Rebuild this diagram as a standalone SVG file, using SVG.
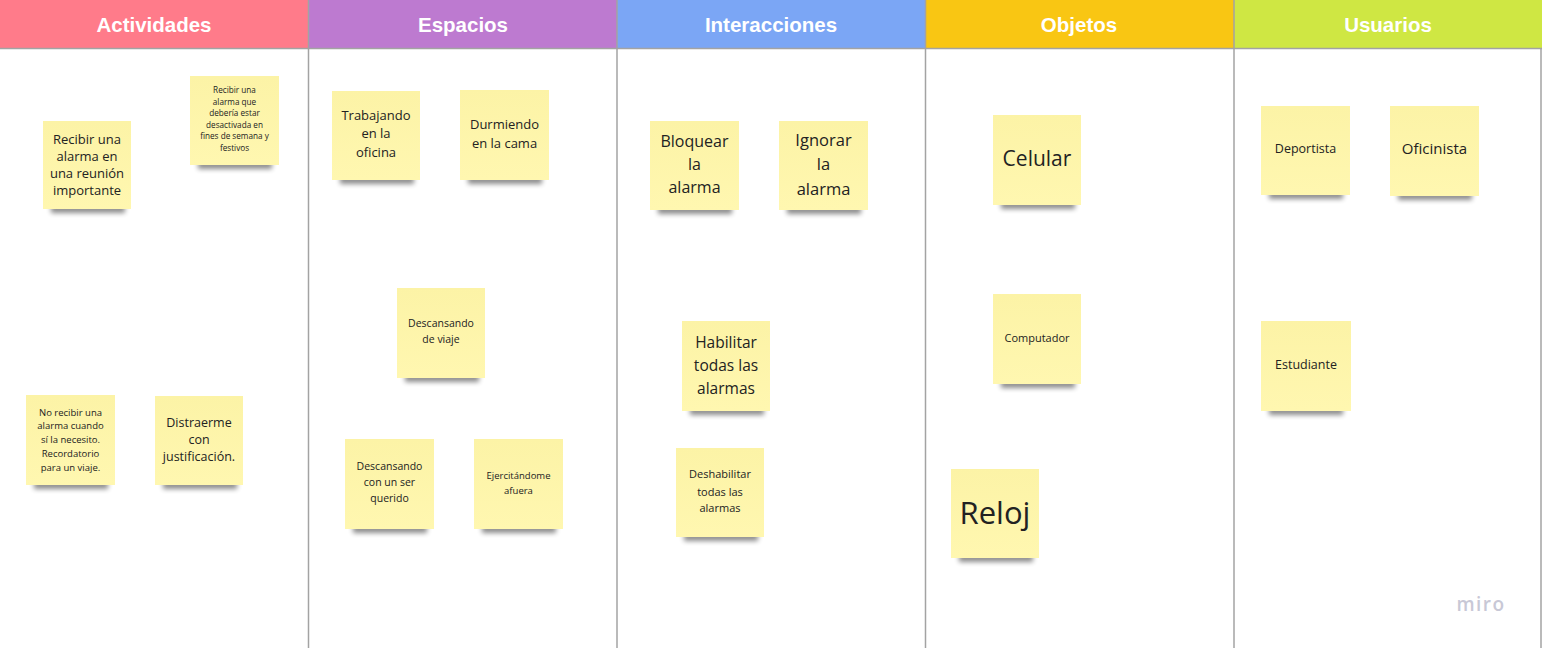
<svg xmlns="http://www.w3.org/2000/svg" width="1542" height="648" viewBox="0 0 1542 648">
<defs>
<filter id="blur" x="-20%" y="-100%" width="140%" height="300%"><feGaussianBlur stdDeviation="2.5"/></filter>
<linearGradient id="paper" x1="0" y1="0" x2="0" y2="1">
<stop offset="0" stop-color="#fcf3a6"/><stop offset="1" stop-color="#fff7b0"/>
</linearGradient>
</defs>
<style>
.hd{font-family:"Liberation Sans",Arial,sans-serif;font-weight:bold;font-size:20.5px;fill:#fff;text-anchor:middle}
.col{stroke:#a3a3a3;stroke-width:1.5}
.note{fill:url(#paper)}
.sh{fill:#000;opacity:.45;filter:url(#blur)}
.t{font-family:"Open Sans","Noto Sans",sans-serif;fill:#222;text-anchor:middle}
</style>
<rect width="1542" height="648" fill="#fff"/>
<g id="headers">
<rect x="0" y="0" width="308.5" height="48" fill="#ff7b8a"/>
<rect x="308.5" y="0" width="308.5" height="48" fill="#bd7ad0"/>
<rect x="617" y="0" width="308.5" height="48" fill="#7ba6f5"/>
<rect x="925.5" y="0" width="308.5" height="48" fill="#f9c613"/>
<rect x="1234" y="0" width="308" height="48" fill="#cfe743"/>
<text class="hd" x="154" y="32">Actividades</text>
<text class="hd" x="463" y="32">Espacios</text>
<text class="hd" x="771" y="32">Interacciones</text>
<text class="hd" x="1079" y="32">Objetos</text>
<text class="hd" x="1388" y="32">Usuarios</text>
</g>
<g id="grid">
<line class="col" x1="0" y1="48.5" x2="1542" y2="48.5"/>
<line class="col" x1="308.5" y1="0" x2="308.5" y2="648"/>
<line class="col" x1="617" y1="0" x2="617" y2="648"/>
<line class="col" x1="925.5" y1="0" x2="925.5" y2="648"/>
<line class="col" x1="1234" y1="0" x2="1234" y2="648"/>
<line class="col" x1="1541" y1="48" x2="1541" y2="648"/>
</g>

<g id="n1"><rect class="sh" x="51" y="205" width="74" height="8"/><rect class="note" x="43" y="121" width="88" height="88"/>
<text class="t" font-size="13"><tspan x="87" y="143.5">Recibir una</tspan><tspan x="87" y="160.5">alarma en</tspan><tspan x="87" y="177.5">una reunión</tspan><tspan x="87" y="194.5">importante</tspan></text></g>

<g id="n2"><rect class="sh" x="198" y="161" width="74" height="8"/><rect class="note" x="190" y="76" width="89" height="89"/>
<text class="t" font-size="8.2"><tspan x="234.5" y="93">Recibir una</tspan><tspan x="234.5" y="104.6">alarma que</tspan><tspan x="234.5" y="116.2">debería estar</tspan><tspan x="234.5" y="127.8">desactivada en</tspan><tspan x="234.5" y="139.4">fines de semana y</tspan><tspan x="234.5" y="151">festivos</tspan></text></g>

<g id="n3"><rect class="sh" x="34" y="481" width="74" height="8"/><rect class="note" x="26" y="395" width="89" height="90"/>
<text class="t" font-size="9.5"><tspan x="70.5" y="415.5">No recibir una</tspan><tspan x="70.5" y="429.3">alarma cuando</tspan><tspan x="70.5" y="443.1">sí la necesito.</tspan><tspan x="70.5" y="456.9">Recordatorio</tspan><tspan x="70.5" y="470.7">para un viaje.</tspan></text></g>

<g id="n4"><rect class="sh" x="163" y="481" width="74" height="8"/><rect class="note" x="155" y="396" width="88" height="89"/>
<text class="t" font-size="12.5"><tspan x="199" y="426.5">Distraerme</tspan><tspan x="199" y="444">con</tspan><tspan x="199" y="461">justificación.</tspan></text></g>

<g id="n5"><rect class="sh" x="340" y="176" width="74" height="8"/><rect class="note" x="332" y="91" width="88" height="89"/>
<text class="t" font-size="13"><tspan x="376" y="119.5">Trabajando</tspan><tspan x="376" y="138">en la</tspan><tspan x="376" y="156.5">oficina</tspan></text></g>

<g id="n6"><rect class="sh" x="468" y="176" width="74" height="8"/><rect class="note" x="460" y="90" width="89" height="90"/>
<text class="t" font-size="13"><tspan x="504.5" y="128.8">Durmiendo</tspan><tspan x="504.5" y="147.8">en la cama</tspan></text></g>

<g id="n7"><rect class="sh" x="405" y="374" width="74" height="8"/><rect class="note" x="397" y="288" width="88" height="90"/>
<text class="t" font-size="10.5"><tspan x="441" y="327">Descansando</tspan><tspan x="441" y="343">de viaje</tspan></text></g>

<g id="n8"><rect class="sh" x="353" y="525" width="74" height="8"/><rect class="note" x="345" y="439" width="89" height="90"/>
<text class="t" font-size="10.5"><tspan x="389.5" y="470.4">Descansando</tspan><tspan x="389.5" y="486.4">con un ser</tspan><tspan x="389.5" y="502">querido</tspan></text></g>

<g id="n9"><rect class="sh" x="482" y="525" width="74" height="8"/><rect class="note" x="474" y="439" width="89" height="90"/>
<text class="t" font-size="9.5"><tspan x="518.5" y="479">Ejercitándome</tspan><tspan x="518.5" y="493.5">afuera</tspan></text></g>

<g id="n10"><rect class="sh" x="658" y="206" width="74" height="8"/><rect class="note" x="650" y="121" width="89" height="89"/>
<text class="t" font-size="16"><tspan x="694.5" y="147.3">Bloquear</tspan><tspan x="694.5" y="170">la</tspan><tspan x="694.5" y="193">alarma</tspan></text></g>

<g id="n11"><rect class="sh" x="787" y="206" width="74" height="8"/><rect class="note" x="779" y="121" width="89" height="89"/>
<text class="t" font-size="16.5"><tspan x="823.5" y="145.8">Ignorar</tspan><tspan x="823.5" y="170">la</tspan><tspan x="823.5" y="194.5">alarma</tspan></text></g>

<g id="n12"><rect class="sh" x="690" y="407" width="74" height="8"/><rect class="note" x="682" y="321" width="88" height="90"/>
<text class="t" font-size="15.5"><tspan x="726" y="347.7">Habilitar</tspan><tspan x="726" y="370.5">todas las</tspan><tspan x="726" y="393.7">alarmas</tspan></text></g>

<g id="n13"><rect class="sh" x="684" y="533" width="74" height="8"/><rect class="note" x="676" y="448" width="88" height="89"/>
<text class="t" font-size="11"><tspan x="720" y="478.2">Deshabilitar</tspan><tspan x="720" y="495.5">todas las</tspan><tspan x="720" y="512">alarmas</tspan></text></g>

<g id="n14"><rect class="sh" x="1001" y="201" width="74" height="8"/><rect class="note" x="993" y="115" width="88" height="90"/>
<text class="t" font-size="21" x="1037" y="165.5">Celular</text></g>

<g id="n15"><rect class="sh" x="1001" y="380" width="74" height="8"/><rect class="note" x="993" y="294" width="88" height="90"/>
<text class="t" font-size="11" x="1037" y="341.8">Computador</text></g>

<g id="n16"><rect class="sh" x="959" y="554" width="74" height="8"/><rect class="note" x="951" y="469" width="88" height="89"/>
<text class="t" font-size="31" x="995" y="524">Reloj</text></g>

<g id="n17"><rect class="sh" x="1269" y="191" width="74" height="8"/><rect class="note" x="1261" y="106" width="89" height="89"/>
<text class="t" font-size="12.5" x="1305.5" y="153.4">Deportista</text></g>

<g id="n18"><rect class="sh" x="1398" y="192" width="74" height="8"/><rect class="note" x="1390" y="106" width="89" height="90"/>
<text class="t" font-size="15" x="1434.5" y="154">Oficinista</text></g>

<g id="n19"><rect class="sh" x="1269" y="407" width="74" height="8"/><rect class="note" x="1261" y="321" width="90" height="90"/>
<text class="t" font-size="12.5" x="1306" y="369.4">Estudiante</text></g>

<g id="logo"><text x="1481" y="611" font-family="'Open Sans',sans-serif" font-weight="600" font-size="19" fill="#c8c8d6" text-anchor="middle" letter-spacing="1.5">miro</text></g>
</svg>
